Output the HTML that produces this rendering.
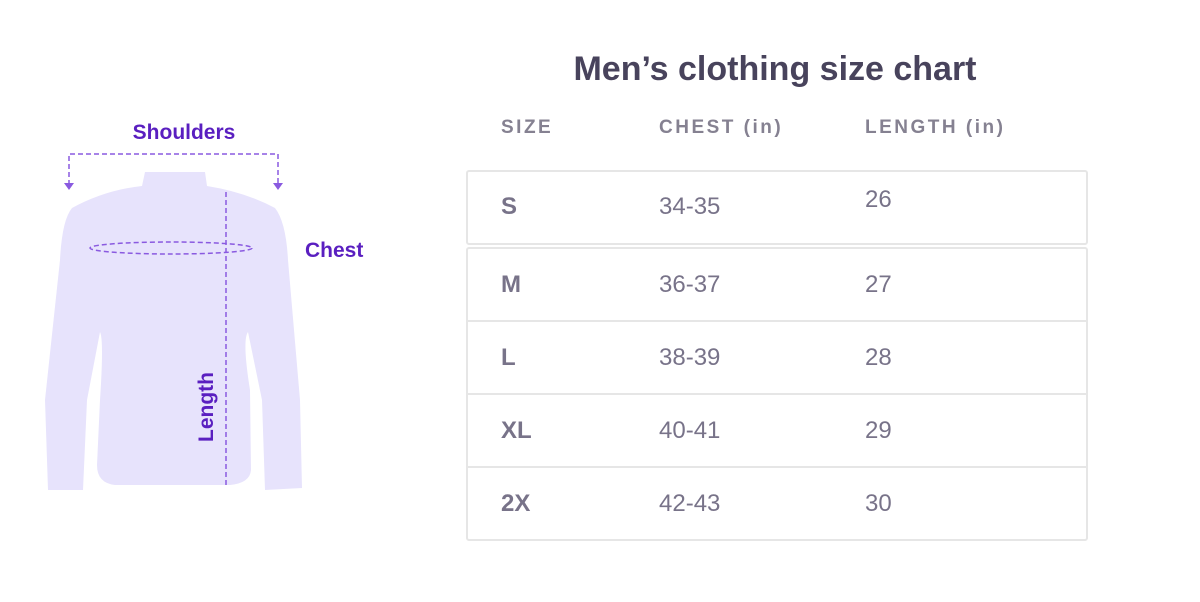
<!DOCTYPE html>
<html><head><style>
body{margin:0;width:1200px;height:602px;background:#fff;position:relative;overflow:hidden;font-family:"Liberation Sans",sans-serif}
.t{position:absolute;white-space:nowrap}
.title{left:0;width:1550px;text-align:center;top:50px;font-size:34px;font-weight:bold;color:#48435c}
.h{top:117px;font-size:19px;font-weight:bold;letter-spacing:2.5px;color:#858191}
.box{position:absolute;left:466px;width:622px;border:2px solid #e6e6e6;border-radius:3px;box-sizing:border-box}
.row{position:absolute;left:0;right:0;height:73px;border-top:2px solid #e6e6e6}
.v{font-size:24px;color:#787389}
.b{font-weight:bold}
</style></head><body>
<svg width="1200" height="602" style="position:absolute;left:0;top:0">
<path d="M145,172 L205,172 L207,186 Q245,192 275,208 Q286,222 288,260 L300,400 L302,488 L265,490 L262,400 L248,332 Q242,340 250,390 L251,470 Q250,483 230,485 L115,485 Q97,483 97,465 L100,400 Q104,340 100,332 L87,400 L83,490 L48,490 L45,400 L60,260 Q62,220 72,208 Q105,190 142,186 Z" fill="#e7e3fc"/>
<path d="M69,185 L69,154 L278,154 L278,185" fill="none" stroke="#8a5ae0" stroke-width="1.5" stroke-dasharray="5,3"/>
<path d="M64,183 L74,183 L69,190Z M273,183 L283,183 L278,190Z" fill="#8a5ae0"/>
<ellipse cx="171" cy="248" rx="81" ry="6" fill="none" stroke="#8a5ae0" stroke-width="1.5" stroke-dasharray="5,3"/>
<line x1="226" y1="192" x2="226" y2="485" stroke="#8a5ae0" stroke-width="1.5" stroke-dasharray="5,3"/>
<text x="184" y="139" text-anchor="middle" font-family="Liberation Sans" font-weight="bold" font-size="21" fill="#5a1fc0">Shoulders</text>
<text x="305" y="257" font-family="Liberation Sans" font-weight="bold" font-size="21" fill="#5a1fc0">Chest</text>
<text transform="translate(213,442) rotate(-90)" font-family="Liberation Sans" font-weight="bold" font-size="21" fill="#5a1fc0">Length</text>
</svg>
<div class="t title">Men’s clothing size chart</div>
<div class="t h" style="left:501px">SIZE</div>
<div class="t h" style="left:659px">CHEST (in)</div>
<div class="t h" style="left:865px">LENGTH (in)</div>
<div class="box" style="top:170px;height:75px"></div>
<div class="box" style="top:247px;height:294px">
<div class="row" style="top:71px"></div><div class="row" style="top:144px"></div><div class="row" style="top:217px"></div>
</div>
<div class="t v b" style="left:501px;top:193px">S</div><div class="t v" style="left:659px;top:193px">34-35</div><div class="t v" style="left:865px;top:186px">26</div>
<div class="t v b" style="left:501px;top:271px">M</div><div class="t v" style="left:659px;top:271px">36-37</div><div class="t v" style="left:865px;top:271px">27</div>
<div class="t v b" style="left:501px;top:344px">L</div><div class="t v" style="left:659px;top:344px">38-39</div><div class="t v" style="left:865px;top:344px">28</div>
<div class="t v b" style="left:501px;top:417px">XL</div><div class="t v" style="left:659px;top:417px">40-41</div><div class="t v" style="left:865px;top:417px">29</div>
<div class="t v b" style="left:501px;top:490px">2X</div><div class="t v" style="left:659px;top:490px">42-43</div><div class="t v" style="left:865px;top:490px">30</div>
</body></html>
